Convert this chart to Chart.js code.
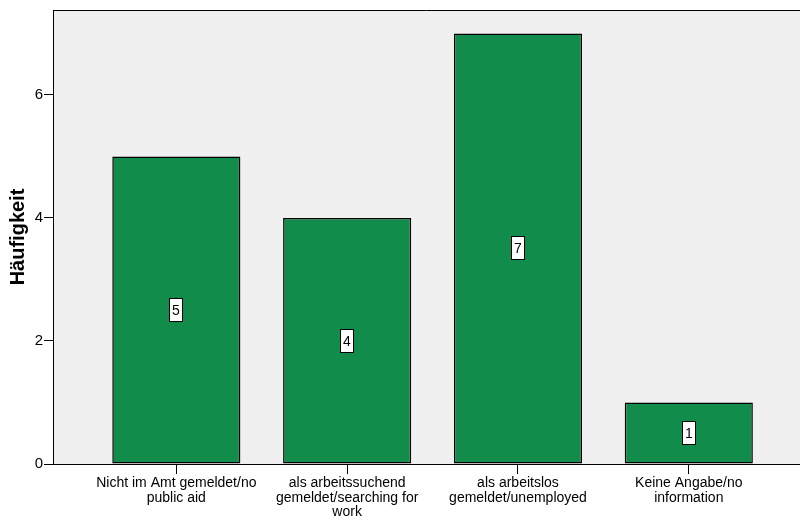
<!DOCTYPE html>
<html>
<head>
<meta charset="utf-8">
<script src="https://cdn.jsdelivr.net/npm/chart.js@4/dist/chart.umd.min.js"></script>
<style>
  html, body { margin: 0; padding: 0; background: #fff; }
  #wrap { width: 800px; height: 520px; }
</style>
</head>
<body>
<div id="wrap"><canvas id="c" width="800" height="520"></canvas></div>
<script>
const categories = [
  ['Nicht im Amt gemeldet/no', 'public aid'],
  ['als arbeitssuchend', 'gemeldet/searching for', 'work'],
  ['als arbeitslos', 'gemeldet/unemployed'],
  ['Keine Angabe/no', 'information']
]
const counts = [5, 4, 7, 1]
const yTicks = [0, 2, 4, 6]
const yTitle = 'Häufigkeit'

const FONT = "'Liberation Sans', Arial, sans-serif"

const plotFrame = {
  id: 'plotFrame',
  beforeDraw(chart) {
    const { ctx, chartArea: a } = chart
    ctx.save()
    ctx.fillStyle = '#f0f0f0'
    ctx.fillRect(a.left, a.top, a.right - a.left, a.bottom - a.top)
    ctx.restore()
  },
  afterDraw(chart) {
    const { ctx, chartArea: a } = chart
    ctx.save()
    ctx.strokeStyle = '#000'
    ctx.lineWidth = 1
    ctx.beginPath()
    ctx.moveTo(a.left, a.top + 0.5)
    ctx.lineTo(a.right, a.top + 0.5)
    ctx.stroke()
    ctx.restore()
  }
}

const valueBoxes = {
  id: 'valueBoxes',
  afterDatasetsDraw(chart) {
    const { ctx } = chart
    const meta = chart.getDatasetMeta(0)
    ctx.save()
    ctx.font = '14px ' + FONT
    ctx.textAlign = 'center'
    ctx.textBaseline = 'middle'
    meta.data.forEach((bar, i) => {
      const txt = String(counts[i])
      const cx = Math.round(bar.x)
      const cy = Math.round((bar.y + bar.base) / 2)
      const w = Math.round(ctx.measureText(txt).width) + 6
      const h = 24
      ctx.fillStyle = '#fff'
      ctx.fillRect(cx - w / 2, cy - h / 2, w, h)
      ctx.strokeStyle = '#000'
      ctx.lineWidth = 1
      ctx.strokeRect(cx - w / 2 + 0.5, cy - h / 2 + 0.5, w - 1, h - 1)
      ctx.fillStyle = '#000'
      ctx.fillText(txt, cx, cy + 1)
    })
    ctx.restore()
  }
}

new Chart(document.getElementById('c'), {
  type: 'bar',
  data: {
    datasets: [{
      data: counts.map((v, i) => ({ x: i + 1, y: v })),
      backgroundColor: '#118c4a',
      borderColor: '#000',
      borderWidth: 1.5,
      borderSkipped: false,
      categoryPercentage: 1,
      barPercentage: 0.75
    }]
  },
  options: {
    responsive: false,
    animation: false,
    layout: { padding: { top: 10, right: 0, left: 0, bottom: 0 } },
    plugins: { legend: { display: false }, tooltip: { enabled: false } },
    scales: {
      x: {
        type: 'linear',
        offset: false,
        min: 0.278,
        max: 4.651,
        afterBuildTicks: (s) => { s.ticks = categories.map((c, i) => ({ value: i + 1 })) },
        afterFit: (s) => { s.height = 56 },
        grid: { offset: false, drawOnChartArea: false, color: '#000', tickLength: 10, lineWidth: 1 },
        border: { display: true, color: '#000', width: 1 },
        ticks: {
          color: '#000',
          padding: 2,
          maxRotation: 0,
          autoSkip: false,
          font: { family: FONT, size: 14, lineHeight: 1.04 },
          callback: (v) => categories[v - 1] || ''
        }
      },
      y: {
        min: 0,
        max: 7.38,
        afterBuildTicks: (s) => { s.ticks = yTicks.map(v => ({ value: v })) },
        afterFit: (s) => { s.width = 53 },
        grid: { drawOnChartArea: false, color: '#000', tickLength: 9, lineWidth: 1 },
        border: { display: true, color: '#000', width: 1 },
        ticks: {
          color: '#000',
          padding: 1,
          font: { family: FONT, size: 15 }
        },
        title: {
          display: true,
          text: yTitle,
          color: '#000',
          padding: { top: 6, bottom: 0 },
          font: { family: FONT, size: 20, weight: 'bold' }
        }
      }
    }
  },
  plugins: [plotFrame, valueBoxes]
})
</script>
</body>
</html>
